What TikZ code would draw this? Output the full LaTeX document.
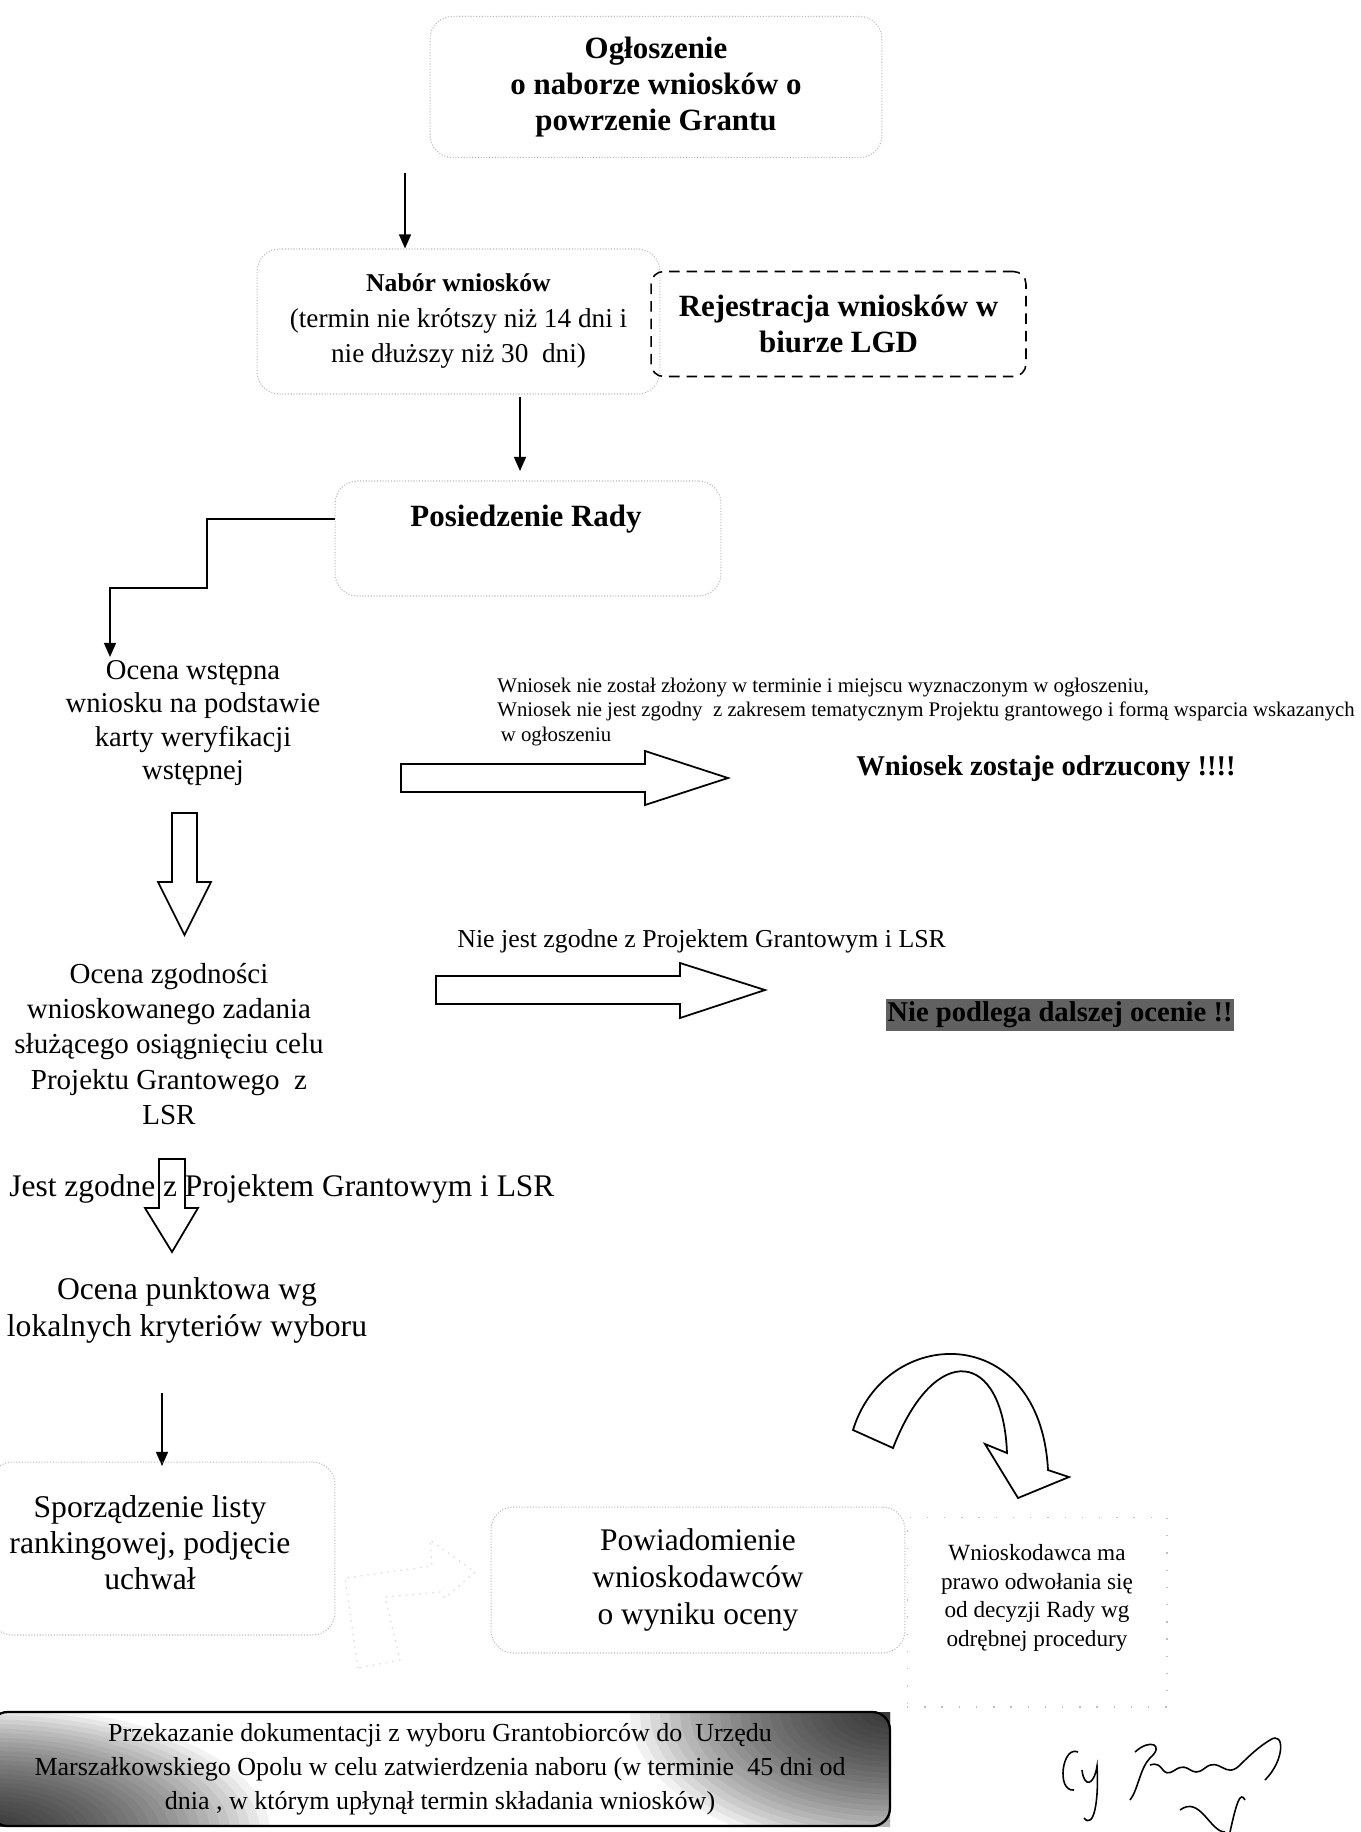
\documentclass[tikz,border=0pt]{standalone}
\usepackage{fontspec}
\setmainfont{Liberation Serif}
\usetikzlibrary{arrows.meta,positioning}

\tikzset{
  ramka/.style={draw=gray!55, densely dotted, line width=0.6pt, rounded corners=0.45cm},
  ramkaRzadka/.style={draw=gray!50, dash pattern=on 0.8pt off 9pt, line width=0.6pt},
  ramkaKreska/.style={draw, line width=0.9pt, dash pattern=on 6pt off 4pt, rounded corners=0.25cm},
  strz/.style={-{Triangle[length=8pt,width=6.8pt]}, line width=0.9pt},
  blok/.style={draw, fill=white, line width=1pt, line join=miter},
  tyt/.style={font=\fontsize{17.6}{20.5}\selectfont\bfseries, align=center, inner sep=0pt},
  opis/.style={align=center, inner sep=0pt},
}

\begin{document}
\begin{tikzpicture}[x=0.02cm, y=-0.02cm]
  \useasboundingbox (0,0) rectangle (1360,1832);

  % gorna czesc
  \node[ramka, tyt, minimum width=9.04cm, minimum height=2.82cm] (ogl) at (656,87)
    {Ogłoszenie\\o naborze wniosków o\\powrzenie Grantu};
  \node[ramka, opis, font=\fontsize{15.5}{20.2}\selectfont, minimum width=8.06cm, minimum height=2.9cm] (nabor) at (458.5,321.5)
    {{\fontsize{14.6}{20.2}\selectfont\bfseries Nabór wniosków}\\(termin nie krótszy niż 14 dni i\\nie dłuższy niż 30~ dni)};
  \node[ramkaKreska, tyt, minimum width=7.5cm, minimum height=2.1cm] (rejestr) at (838.5,324)
    {Rejestracja wniosków w\\biurze LGD};
  \node[ramka, minimum width=7.72cm, minimum height=2.3cm] (posiedz) at (528,538.5) {};
  \node[tyt] (posiedzT) at (526,519) {Posiedzenie Rady};

  \coordinate (s1) at (405,173);
  \draw[strz] (s1) -- (s1 |- nabor.north);
  \coordinate (s2) at (520,397);
  \coordinate (e2) at (520,471);
  \draw[strz] (s2) -- (e2);
  \coordinate (z1) at (207,588);
  \coordinate (z2) at (110,657);
  \draw[strz] (posiedz.west |- posiedzT) -| (z1) -| (z2);

  % ocena wstepna
  \node[opis, font=\fontsize{16.3}{19}\selectfont] (ocenaWst) at (193,723)
    {Ocena wstępna\\wniosku na podstawie\\karty weryfikacji\\wstępnej};
  \node[anchor=west, align=left, inner sep=0pt, font=\fontsize{11.85}{14}\selectfont] (uwagi) at (497,712)
    {Wniosek nie został złożony w terminie i miejscu wyznaczonym w ogłoszeniu,\\Wniosek nie jest zgodny~ z zakresem tematycznym Projektu grantowego i formą wsparcia wskazanych\\\hspace{2pt}w ogłoszeniu};
  \node[font=\fontsize{16.3}{19}\selectfont\bfseries, inner sep=0pt] (odrzuc) at (1046,769) {Wniosek zostaje odrzucony !!!!};

  \coordinate (b1) at (401,778);
  \draw[blok] (b1) ++(0,-14) -- ++(244,0) -- ++(0,-13) -- ++(83,27) -- ++(-83,27) -- ++(0,-13) -- ++(-244,0) -- cycle;
  \coordinate (b2) at (184.5,813);
  \draw[blok] (b2) ++(-12.5,0) -- ++(25,0) -- ++(0,69) -- ++(14,0) -- ++(-26.5,53) -- ++(-26.5,-53) -- ++(14,0) -- cycle;

  % ocena zgodnosci
  \node[opis, font=\fontsize{16.5}{20}\selectfont] (ocenaZgod) at (169,1044)
    {Ocena zgodności\\wnioskowanego zadania\\służącego osiągnięciu celu\\Projektu Grantowego~ z\\LSR};
  \node[anchor=base west, inner sep=0pt, font=\fontsize{14.7}{17}\selectfont] (nieZgod) at (457,947)
    {Nie jest zgodne z Projektem Grantowym i LSR};
  \coordinate (b3) at (436,990);
  \draw[blok] (b3) ++(0,-14) -- ++(244,0) -- ++(0,-13) -- ++(85,27) -- ++(-85,28) -- ++(0,-14) -- ++(-244,0) -- cycle;
  \node[fill=black!62, inner xsep=1pt, inner ysep=1.5pt, font=\fontsize{16.3}{19}\selectfont\bfseries] (niePodl) at (1060,1015)
    {Nie podlega dalszej ocenie !!};

  \coordinate (b4) at (172,1159);
  \draw[blok] (b4) ++(-13,0) -- ++(26,0) -- ++(0,49) -- ++(13,0) -- ++(-26,44) -- ++(-27,-44) -- ++(14,0) -- cycle;
  \node[anchor=base west, inner sep=0pt, font=\fontsize{17.9}{21}\selectfont] (jestZgod) at (9,1196)
    {Jest zgodne z Projektem Grantowym i LSR};

  % ocena punktowa i lista
  \node[opis, font=\fontsize{18}{21}\selectfont] (ocenaPkt) at (187,1310)
    {Ocena punktowa wg\\lokalnych kryteriów wyboru};
  \coordinate (s3) at (162,1393);
  \coordinate (e3) at (162,1466);
  \draw[strz] (s3) -- (e3);

  \node[ramka, minimum width=6.9cm, minimum height=3.46cm] (listaRamka) at (162.5,1548.5) {};
  \node[opis, font=\fontsize{18}{20.5}\selectfont] (lista) at (150,1543)
    {Sporządzenie listy\\rankingowej, podjęcie\\uchwał};
  \draw[gray!30, dash pattern=on 0.8pt off 3pt, line width=0.7pt] (358,1668) -- (345,1578) -- (432,1566) -- (430,1540)
    -- (475,1572) -- (445,1598) -- (440,1592) -- (385,1597) -- (400,1660) -- cycle;

  \node[ramka, opis, font=\fontsize{17.9}{21}\selectfont, minimum width=8.28cm, minimum height=2.92cm] (powiad) at (698,1580)
    {Powiadomienie\\wnioskodawców\\o wyniku oceny};

  % odwolanie
  \draw[blok] (853,1430) .. controls (885,1325) and (1040,1320) .. (1048,1470) -- (1069,1477) -- (1018,1498)
    -- (985,1444) -- (1007,1453) .. controls (1003,1350) and (935,1340) .. (893,1448) -- cycle;
  \node[ramkaRzadka, minimum width=5.2cm, minimum height=3.8cm] (odwolRamka) at (1037,1612) {};
  \node[opis, font=\fontsize{13.2}{16.4}\selectfont] (odwol) at (1037,1598)
    {Wnioskodawca ma\\prawo odwołania się\\od decyzji Rady wg\\odrębnej procedury};

  % przekazanie
  \begin{scope}
    \clip (-10,1712) rectangle (890,1826);
    \foreach \r in {10,20,...,260}
      \fill[black, opacity=0.055] (890,1712) ellipse[x radius=\r, y radius=0.55*\r];
    \foreach \r in {10,20,...,280}
      \fill[black, opacity=0.05] (-10,1832) ellipse[x radius=\r, y radius=0.45*\r];
  \end{scope}
  \node[draw, line width=1.3pt, rounded corners=0.35cm, minimum width=18cm, minimum height=2.28cm,
    opis, font=\fontsize{14.8}{19.3}\selectfont] (przekaz) at (440,1769)
    {Przekazanie dokumentacji z wyboru Grantobiorców do~ Urzędu\\Marszałkowskiego Opolu w celu zatwierdzenia naboru (w terminie~ 45 dni od\\dnia , w którym upłynął termin składania wniosków)};

  % podpis
  \draw[line width=0.9pt] (1078,1752) .. controls (1062,1745) and (1056,1792) .. (1074,1790);
  \draw[line width=0.9pt] (1082,1770) .. controls (1084,1788) and (1094,1786) .. (1097,1766)
    .. controls (1099,1800) and (1094,1830) .. (1084,1818);
  \draw[line width=0.9pt] (1135,1752) .. controls (1150,1738) and (1165,1745) .. (1150,1758)
    .. controls (1140,1768) and (1138,1790) .. (1130,1800);
  \draw[line width=0.9pt] (1150,1765) .. controls (1165,1760) and (1160,1780) .. (1175,1770)
    .. controls (1190,1760) and (1190,1780) .. (1205,1768) .. controls (1220,1756) and (1225,1780) .. (1240,1765)
    .. controls (1255,1750) and (1262,1745) .. (1270,1740) .. controls (1285,1730) and (1285,1760) .. (1265,1780);
  \draw[line width=0.9pt] (1180,1810) .. controls (1200,1795) and (1210,1832) .. (1225,1832);
  \draw[line width=0.9pt] (1230,1832) .. controls (1236,1805) and (1240,1790) .. (1245,1800);
\end{tikzpicture}
\end{document}
